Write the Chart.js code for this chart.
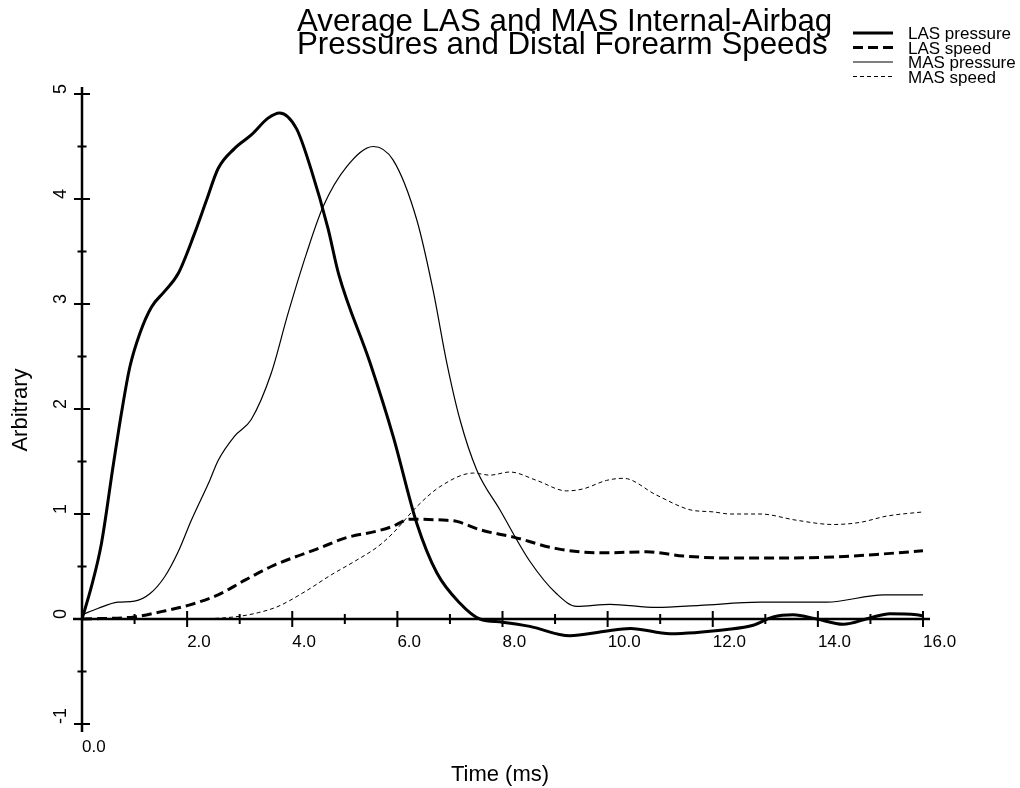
<!DOCTYPE html>
<html>
<head>
<meta charset="utf-8">
<script src="https://cdn.jsdelivr.net/npm/chart.js@4.4.1/dist/chart.umd.min.js"></script>
<style>
  html, body { margin: 0; padding: 0; background: #fff; }
  #wrap { width: 1020px; height: 788px; }
</style>
</head>
<body>
<div id="wrap"><canvas id="airbagChart"></canvas></div>
<script>
// Time (ms) / value pairs
const lasPressureT = [0, 0.18, 0.37, 0.59, 0.75, 0.91, 1.10, 1.32, 1.57, 1.83, 2.14, 2.37, 2.59, 2.90, 3.22, 3.54, 3.76, 4.08, 4.36, 4.68, 4.88, 5.48, 5.92, 6.37, 6.75, 7.19, 7.57, 8.00, 8.52, 9.28, 9.92, 10.43, 11.19, 12.27, 12.77, 13.15, 13.53, 13.98, 14.48, 14.99, 15.37, 15.88, 16.0];
const lasPressure  = [0, 0.31, 0.72, 1.45, 1.96, 2.40, 2.72, 2.97, 3.12, 3.29, 3.67, 3.99, 4.29, 4.48, 4.61, 4.77, 4.82, 4.67, 4.28, 3.72, 3.29, 2.44, 1.74, 0.91, 0.44, 0.15, 0.0, -0.03, -0.07, -0.16, -0.12, -0.09, -0.14, -0.10, -0.06, 0.02, 0.04, 0.0, -0.05, 0.01, 0.05, 0.04, 0.03];

const lasSpeedT = [0, 1.0, 1.51, 2.02, 2.59, 3.10, 3.60, 4.05, 4.49, 5.0, 5.63, 5.90, 6.24, 6.94, 7.13, 7.57, 8.21, 9.03, 9.92, 10.74, 11.44, 12.33, 13.03, 14.29, 15.25, 16.0];
const lasSpeed  = [0, 0.02, 0.07, 0.13, 0.23, 0.37, 0.50, 0.59, 0.67, 0.77, 0.84, 0.88, 0.95, 0.94, 0.93, 0.85, 0.78, 0.67, 0.63, 0.64, 0.60, 0.58, 0.58, 0.59, 0.62, 0.65];

const masPressureT = [0, 0.30, 0.68, 1.00, 1.29, 1.57, 1.83, 2.08, 2.43, 2.59, 2.90, 3.22, 3.60, 3.92, 4.27, 4.59, 5.04, 5.54, 5.92, 6.37, 6.68, 6.94, 7.19, 7.51, 7.95, 8.52, 9.03, 9.41, 10.05, 10.93, 11.76, 12.9, 14.17, 15.25, 16.0];
const masPressure  = [0.04, 0.10, 0.16, 0.17, 0.24, 0.40, 0.64, 0.94, 1.32, 1.51, 1.74, 1.90, 2.34, 2.91, 3.48, 3.93, 4.31, 4.50, 4.37, 3.80, 3.13, 2.44, 1.90, 1.42, 1.04, 0.55, 0.24, 0.12, 0.14, 0.11, 0.13, 0.16, 0.16, 0.23, 0.23];

const masSpeedT = [0, 1.83, 2.90, 3.35, 3.73, 4.24, 4.74, 5.19, 5.63, 5.92, 6.37, 6.81, 7.45, 7.76, 8.14, 8.65, 9.22, 9.54, 9.98, 10.30, 10.93, 11.57, 12.01, 12.33, 12.90, 13.60, 14.29, 14.80, 15.31, 16.0];
const masSpeed  = [0, 0.0, 0.02, 0.06, 0.12, 0.26, 0.42, 0.55, 0.69, 0.82, 1.07, 1.26, 1.39, 1.37, 1.40, 1.32, 1.22, 1.24, 1.32, 1.34, 1.18, 1.04, 1.02, 1.00, 1.00, 0.94, 0.90, 0.92, 0.98, 1.02];

const xTicks = [0, 2, 4, 6, 8, 10, 12, 14, 16];
const xTickLabels = ['0.0', '2.0', '4.0', '6.0', '8.0', '10.0', '12.0', '14.0', '16.0'];
const yTicks = [-1, 0, 1, 2, 3, 4, 5];
const yTickLabels = ['-1', '0', '1', '2', '3', '4', '5'];

const titleLines = ['Average LAS and MAS Internal-Airbag', 'Pressures and Distal Forearm Speeds'];
const FONT = "'Liberation Sans', Arial, Helvetica, sans-serif";

function pts(t, v) { return t.map((x, i) => ({ x: x, y: v[i] })); }

// axes crossing at 0, ticks on both sides, labels starting at the tick
const crossAxes = {
  id: 'crossAxes',
  beforeDatasetsDraw(chart) {
    const { ctx, scales: { x, y } } = chart;
    const x0 = x.getPixelForValue(0), y0 = y.getPixelForValue(0);
    const yTop = y.getPixelForValue(5), yBot = y.getPixelForValue(-1);
    ctx.save();
    ctx.strokeStyle = '#000';
    ctx.lineCap = 'butt';
    ctx.lineWidth = 2.5;
    ctx.beginPath();
    ctx.moveTo(x0, yTop - 7); ctx.lineTo(x0, yBot + 8);
    ctx.moveTo(x0 - 9, y0); ctx.lineTo(x.getPixelForValue(16) + 7, y0);
    ctx.stroke();

    ctx.lineWidth = 2;
    ctx.beginPath();
    for (let v = -1; v <= 5; v += 0.5) {
      const p = y.getPixelForValue(v);
      const h = Number.isInteger(v) ? 8 : 4.5;
      ctx.moveTo(x0 - h, p); ctx.lineTo(x0 + h, p);
    }
    for (let v = 1; v <= 16; v += 1) {
      const p = x.getPixelForValue(v);
      const h = v % 2 === 0 ? 8 : 5;
      ctx.moveTo(p, y0 - h); ctx.lineTo(p, y0 + h);
    }
    ctx.stroke();

    ctx.fillStyle = '#000';
    ctx.font = '17px ' + FONT;
    ctx.textAlign = 'left';
    ctx.textBaseline = 'top';
    xTicks.forEach((v, i) => {
      const px = x.getPixelForValue(v);
      const py = v === 0 ? yBot + 15 : y0 + 15;
      ctx.fillText(xTickLabels[i], px, py);
    });
    ctx.font = '18px ' + FONT;
    ctx.textBaseline = 'alphabetic';
    yTicks.forEach((v, i) => {
      ctx.save();
      ctx.translate(x0 - 16, y.getPixelForValue(v));
      ctx.rotate(-Math.PI / 2);
      ctx.fillText(yTickLabels[i], 0, 0);
      ctx.restore();
    });
    ctx.restore();
  },
  afterDraw(chart) {
    const { ctx } = chart;
    ctx.save();
    ctx.fillStyle = '#000';
    // title
    ctx.font = '31.3px ' + FONT;
    ctx.textAlign = 'left';
    ctx.textBaseline = 'alphabetic';
    ctx.fillText(titleLines[0], 297, 31);
    ctx.fillText(titleLines[1], 297, 54);
    // axis titles
    ctx.font = '22px ' + FONT;
    ctx.textAlign = 'center';
    ctx.textBaseline = 'middle';
    ctx.fillText('Time (ms)', 500, 775);
    ctx.save();
    ctx.translate(21, 410);
    ctx.rotate(-Math.PI / 2);
    ctx.fillText('Arbitrary', 0, 0);
    ctx.restore();
    // legend
    ctx.font = '17px ' + FONT;
    ctx.textAlign = 'left';
    ctx.textBaseline = 'alphabetic';
    chart.data.datasets.forEach((ds, i) => {
      const base = 39 + i * 14.5;
      ctx.strokeStyle = '#000';
      ctx.lineWidth = ds.borderWidth;
      ctx.setLineDash(ds.borderDash || []);
      ctx.beginPath();
      ctx.moveTo(853, base - 6); ctx.lineTo(893, base - 6);
      ctx.stroke();
      ctx.setLineDash([]);
      ctx.fillText(ds.label, 908, base);
    });
    ctx.restore();
  }
};

const ctx = document.getElementById('airbagChart');
new Chart(ctx, {
  type: 'line',
  data: {
    datasets: [
      { label: 'LAS pressure', data: pts(lasPressureT, lasPressure), borderColor: '#000', borderWidth: 3 },
      { label: 'LAS speed', data: pts(lasSpeedT, lasSpeed), borderColor: '#000', borderWidth: 3, borderDash: [10, 5] },
      { label: 'MAS pressure', data: pts(masPressureT, masPressure), borderColor: '#000', borderWidth: 1.2 },
      { label: 'MAS speed', data: pts(masSpeedT, masSpeed), borderColor: '#000', borderWidth: 1, borderDash: [4, 3] }
    ]
  },
  options: {
    responsive: true,
    maintainAspectRatio: false,
    animation: false,
    layout: { padding: { left: 82, right: 97, top: 94, bottom: 64 } },
    elements: {
      point: { radius: 0 },
      line: { cubicInterpolationMode: 'monotone', fill: false }
    },
    scales: {
      x: { type: 'linear', min: 0, max: 16, display: false },
      y: { type: 'linear', min: -1, max: 5, display: false }
    },
    plugins: { legend: { display: false }, tooltip: { enabled: false } }
  },
  plugins: [crossAxes]
});
</script>
</body>
</html>
